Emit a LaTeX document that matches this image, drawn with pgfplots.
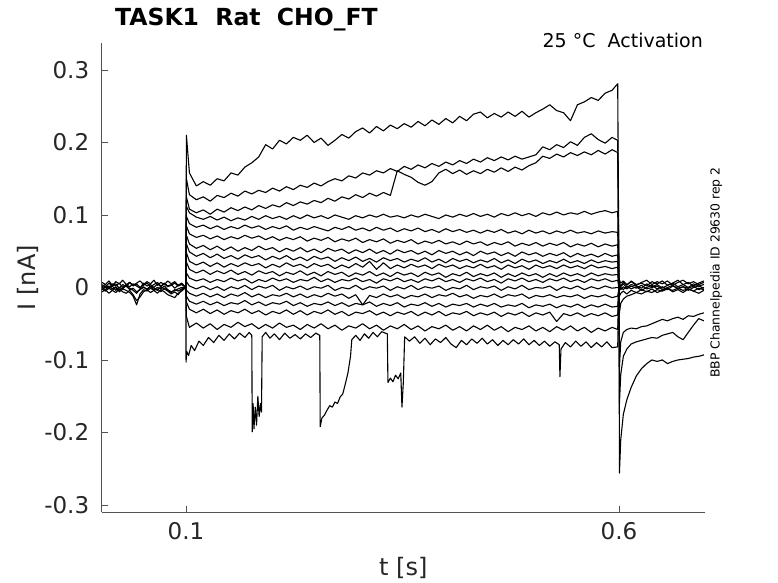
\documentclass[border=0pt]{standalone}
\usepackage{pgfplots}
\usepackage{pgfplotstable}
\pgfplotsset{compat=1.18}
\usepackage{fontspec}
\setmainfont{DejaVu Sans}
\definecolor{axgray}{gray}{0.15}

\pgfplotstableread{
name 0.0999 0.1005 0.104 0.112 0.120 0.128 0.136 0.144 0.152 0.160 0.168 0.176 0.184 0.192 0.200 0.208 0.216 0.224 0.232 0.240 0.248 0.256 0.264 0.272 0.280 0.288 0.296 0.304 0.312 0.320 0.328 0.336 0.344 0.352 0.360 0.368 0.376 0.384 0.392 0.400 0.408 0.416 0.424 0.432 0.440 0.448 0.456 0.464 0.472 0.480 0.488 0.496 0.504 0.512 0.520 0.528 0.536 0.544 0.552 0.560 0.568 0.576 0.584 0.592 0.5985 0.6000
A 0.000 0.210 0.158 0.140 0.146 0.141 0.150 0.147 0.158 0.155 0.166 0.172 0.180 0.197 0.191 0.203 0.198 0.207 0.203 0.210 0.200 0.206 0.196 0.203 0.211 0.206 0.215 0.220 0.213 0.222 0.216 0.224 0.219 0.226 0.221 0.229 0.223 0.231 0.225 0.233 0.227 0.236 0.230 0.239 0.242 0.234 0.240 0.235 0.242 0.236 0.243 0.235 0.241 0.246 0.252 0.244 0.241 0.230 0.252 0.256 0.262 0.258 0.268 0.272 0.281 0.000
B 0.000 0.150 0.128 0.121 0.125 0.119 0.127 0.124 0.130 0.126 0.133 0.129 0.134 0.131 0.137 0.133 0.139 0.135 0.141 0.138 0.144 0.140 0.146 0.150 0.147 0.154 0.151 0.158 0.155 0.161 0.158 0.164 0.160 0.167 0.163 0.169 0.165 0.171 0.167 0.173 0.169 0.175 0.171 0.177 0.173 0.179 0.175 0.180 0.176 0.181 0.177 0.180 0.183 0.194 0.190 0.197 0.193 0.201 0.196 0.207 0.212 0.204 0.199 0.207 0.203 0.000
C 0.000 0.125 0.108 0.103 0.107 0.101 0.108 0.104 0.110 0.106 0.111 0.107 0.113 0.109 0.114 0.111 0.117 0.113 0.118 0.115 0.120 0.117 0.123 0.119 0.125 0.122 0.128 0.124 0.130 0.126 0.131 0.127 0.161 0.156 0.152 0.145 0.141 0.146 0.158 0.163 0.157 0.162 0.156 0.161 0.157 0.163 0.159 0.165 0.160 0.166 0.162 0.168 0.172 0.181 0.178 0.184 0.180 0.186 0.182 0.187 0.183 0.189 0.184 0.190 0.186 0.000
D 0.000 0.112 0.103 0.097 0.094 0.098 0.093 0.097 0.092 0.096 0.093 0.098 0.094 0.099 0.095 0.098 0.094 0.099 0.095 0.100 0.096 0.099 0.095 0.100 0.097 0.094 0.099 0.096 0.100 0.097 0.101 0.097 0.099 0.096 0.100 0.097 0.101 0.098 0.095 0.100 0.097 0.101 0.098 0.102 0.098 0.101 0.097 0.102 0.099 0.103 0.099 0.102 0.098 0.103 0.100 0.104 0.100 0.103 0.101 0.105 0.101 0.104 0.106 0.103 0.105 0.000
E 0.000 0.098 0.088 0.083 0.086 0.081 0.085 0.080 0.084 0.081 0.086 0.082 0.085 0.080 0.084 0.081 0.085 0.079 0.083 0.080 0.084 0.081 0.078 0.083 0.080 0.084 0.079 0.082 0.078 0.083 0.079 0.082 0.077 0.081 0.078 0.082 0.077 0.080 0.076 0.081 0.077 0.080 0.076 0.079 0.075 0.079 0.076 0.080 0.075 0.078 0.074 0.079 0.075 0.078 0.074 0.078 0.075 0.079 0.075 0.077 0.074 0.078 0.075 0.077 0.076 0.000
F 0.000 0.085 0.074 0.069 0.072 0.067 0.071 0.066 0.070 0.067 0.072 0.068 0.071 0.066 0.070 0.065 0.069 0.066 0.070 0.064 0.068 0.065 0.069 0.063 0.067 0.064 0.068 0.062 0.066 0.063 0.067 0.061 0.065 0.062 0.066 0.060 0.064 0.061 0.065 0.060 0.063 0.059 0.064 0.060 0.063 0.058 0.062 0.059 0.063 0.057 0.061 0.058 0.062 0.057 0.061 0.058 0.062 0.056 0.060 0.057 0.061 0.056 0.060 0.057 0.059 0.000
G 0.000 0.072 0.060 0.054 0.058 0.052 0.057 0.051 0.056 0.050 0.055 0.051 0.057 0.052 0.055 0.049 0.054 0.050 0.055 0.049 0.053 0.048 0.054 0.050 0.053 0.047 0.052 0.048 0.053 0.047 0.051 0.046 0.052 0.048 0.051 0.046 0.050 0.045 0.051 0.047 0.050 0.045 0.049 0.044 0.050 0.046 0.049 0.044 0.048 0.043 0.049 0.045 0.048 0.043 0.047 0.044 0.048 0.042 0.047 0.043 0.046 0.042 0.047 0.043 0.045 0.000
H 0.000 0.060 0.049 0.043 0.047 0.041 0.046 0.040 0.044 0.039 0.045 0.041 0.044 0.038 0.043 0.039 0.044 0.038 0.042 0.037 0.043 0.039 0.042 0.036 0.041 0.037 0.042 0.036 0.040 0.035 0.041 0.037 0.040 0.035 0.039 0.036 0.041 0.035 0.039 0.034 0.040 0.036 0.039 0.034 0.038 0.035 0.040 0.034 0.038 0.033 0.039 0.035 0.038 0.033 0.037 0.034 0.039 0.034 0.037 0.033 0.038 0.034 0.037 0.035 0.036 0.000
I 0.000 0.048 0.036 0.031 0.035 0.029 0.034 0.028 0.033 0.029 0.034 0.030 0.033 0.027 0.032 0.028 0.034 0.029 0.032 0.027 0.033 0.029 0.032 0.026 0.031 0.027 0.033 0.028 0.036 0.025 0.034 0.026 0.031 0.027 0.032 0.028 0.031 0.026 0.032 0.028 0.031 0.026 0.030 0.027 0.032 0.027 0.030 0.025 0.031 0.027 0.030 0.025 0.031 0.027 0.030 0.026 0.031 0.027 0.030 0.026 0.031 0.027 0.029 0.026 0.028 0.000
J 0.000 0.035 0.025 0.020 0.024 0.018 0.023 0.019 0.024 0.018 0.022 0.017 0.023 0.019 0.022 0.016 0.021 0.018 0.023 0.017 0.021 0.016 0.022 0.018 0.021 0.015 0.020 0.017 0.022 0.016 0.020 0.015 0.021 0.017 0.020 0.015 0.021 0.017 0.020 0.014 0.019 0.016 0.021 0.015 0.019 0.016 0.020 0.014 0.019 0.015 0.020 0.016 0.019 0.014 0.019 0.015 0.020 0.016 0.019 0.015 0.020 0.016 0.019 0.017 0.018 0.000
K 0.000 0.020 0.013 0.009 0.012 0.007 0.011 0.008 0.013 0.009 0.012 0.006 0.011 0.008 0.013 0.009 0.012 0.007 0.011 0.009 0.014 0.008 0.012 0.007 0.011 0.009 0.013 0.008 0.011 0.006 0.012 0.009 0.013 0.008 0.011 0.007 0.012 0.009 0.013 0.008 0.011 0.007 0.012 0.009 0.013 0.008 0.011 0.006 0.012 0.009 0.013 0.008 0.011 0.007 0.012 0.009 0.013 0.008 0.011 0.007 0.012 0.009 0.012 0.008 0.010 0.000
L 0.000 0.008 0.002 -0.002 0.002 -0.003 0.001 -0.004 0.001 -0.002 0.003 -0.003 0.002 -0.001 0.003 -0.004 0.001 -0.002 0.002 -0.003 0.001 -0.001 0.003 -0.004 0.000 -0.002 0.003 -0.003 0.001 -0.001 0.002 -0.004 0.001 -0.002 0.003 -0.003 0.001 -0.001 0.002 -0.004 0.000 -0.002 0.003 -0.003 0.001 -0.001 0.002 -0.004 0.001 -0.002 0.003 -0.003 0.000 -0.001 0.002 -0.004 0.001 -0.002 0.002 -0.003 0.001 -0.002 0.002 -0.001 0.000 0.000
M 0.000 -0.004 -0.008 -0.012 -0.008 -0.013 -0.009 -0.014 -0.009 -0.012 -0.007 -0.013 -0.009 -0.014 -0.010 -0.012 -0.008 -0.013 -0.009 -0.014 -0.010 -0.013 -0.008 -0.012 -0.009 -0.015 -0.010 -0.024 -0.011 -0.014 -0.009 -0.013 -0.010 -0.015 -0.011 -0.013 -0.009 -0.014 -0.010 -0.012 -0.008 -0.013 -0.010 -0.015 -0.011 -0.013 -0.009 -0.014 -0.010 -0.012 -0.009 -0.015 -0.011 -0.013 -0.010 -0.014 -0.011 -0.013 -0.010 -0.015 -0.011 -0.013 -0.010 -0.014 -0.012 0.000
N 0.000 -0.012 -0.019 -0.023 -0.019 -0.024 -0.020 -0.025 -0.021 -0.023 -0.018 -0.024 -0.020 -0.025 -0.021 -0.023 -0.019 -0.025 -0.021 -0.026 -0.022 -0.024 -0.020 -0.025 -0.021 -0.026 -0.022 -0.024 -0.020 -0.026 -0.022 -0.025 -0.021 -0.027 -0.023 -0.025 -0.021 -0.026 -0.022 -0.027 -0.023 -0.025 -0.022 -0.027 -0.023 -0.026 -0.022 -0.027 -0.024 -0.026 -0.022 -0.028 -0.024 -0.026 -0.023 -0.028 -0.024 -0.027 -0.023 -0.028 -0.024 -0.027 -0.023 -0.027 -0.026 0.000
O 0.000 -0.020 -0.030 -0.035 -0.030 -0.036 -0.031 -0.037 -0.032 -0.035 -0.030 -0.036 -0.032 -0.038 -0.033 -0.036 -0.031 -0.037 -0.032 -0.038 -0.033 -0.036 -0.031 -0.037 -0.033 -0.039 -0.034 -0.036 -0.032 -0.038 -0.034 -0.039 -0.034 -0.037 -0.033 -0.039 -0.034 -0.038 -0.033 -0.039 -0.035 -0.037 -0.033 -0.039 -0.035 -0.038 -0.034 -0.040 -0.035 -0.038 -0.034 -0.040 -0.035 -0.038 -0.034 -0.047 -0.036 -0.039 -0.035 -0.040 -0.036 -0.039 -0.035 -0.040 -0.038 0.000
P 0.000 -0.040 -0.055 -0.049 -0.056 -0.050 -0.058 -0.051 -0.055 -0.048 -0.054 -0.050 -0.057 -0.051 -0.056 -0.049 -0.055 -0.052 -0.058 -0.051 -0.056 -0.050 -0.057 -0.052 -0.059 -0.053 -0.056 -0.050 -0.057 -0.052 -0.059 -0.053 -0.057 -0.051 -0.058 -0.053 -0.060 -0.054 -0.057 -0.052 -0.059 -0.054 -0.060 -0.053 -0.058 -0.052 -0.059 -0.054 -0.061 -0.055 -0.058 -0.053 -0.060 -0.055 -0.061 -0.054 -0.059 -0.053 -0.060 -0.055 -0.062 -0.056 -0.060 -0.055 -0.058 0.000
}\pulseraw
\pgfplotstabletranspose[colnames from=name]\pulse\pulseraw

\pgfplotstableread{
name 0.003 0.007 0.011 0.015 0.019 0.023 0.027 0.031 0.035 0.039 0.043 0.047 0.051 0.055 0.059 0.063 0.067 0.071 0.075 0.079 0.083 0.087 0.091 0.095 0.0999
Q1 0.007 0.004 0.009 0.003 0.008 0.005 0.010 0.004 0.007 0.003 0.006 0.009 0.004 0.008 0.005 0.010 0.003 0.007 0.004 0.009 0.005 0.008 0.003 0.006 0.000
Q2 0.001 0.004 -0.001 0.005 0.002 0.006 0.000 0.004 0.001 0.005 0.002 -0.001 0.006 0.002 0.004 0.000 0.005 0.001 0.006 0.002 0.004 -0.001 0.003 0.005 0.000
Q3 -0.003 0.001 -0.002 0.002 -0.004 0.000 -0.002 0.003 -0.001 -0.004 -0.008 -0.002 0.001 -0.003 0.002 -0.001 -0.004 0.001 -0.002 -0.005 -0.009 -0.006 -0.010 -0.003 0.000
Q4 -0.002 -0.005 -0.001 -0.004 0.000 -0.006 -0.002 -0.004 -0.007 -0.012 -0.024 -0.009 -0.003 -0.005 -0.001 -0.004 -0.002 -0.006 -0.001 -0.004 -0.007 -0.003 -0.005 -0.002 0.000
Q5 -0.006 -0.003 -0.008 -0.004 -0.007 -0.002 -0.006 -0.008 -0.004 -0.010 -0.018 -0.013 -0.006 -0.003 -0.007 -0.004 -0.008 -0.003 -0.006 -0.010 -0.012 -0.014 -0.008 -0.005 0.000
Q6 0.004 0.000 0.006 0.002 0.005 -0.001 0.004 0.001 0.007 0.002 0.005 0.000 0.003 0.006 0.001 0.004 0.007 0.002 0.005 0.001 0.003 0.006 0.002 0.004 0.000
Q7 0.000 -0.003 0.002 -0.002 0.001 -0.004 0.000 0.002 -0.003 -0.001 -0.006 -0.003 0.000 -0.002 0.001 -0.003 0.000 -0.002 0.002 -0.003 -0.006 -0.004 -0.002 0.000 0.000
}\preraw
\pgfplotstabletranspose[colnames from=name]\pre\preraw

\pgfplotstableread{
name 0.6000 0.6005 0.602 0.605 0.609 0.614 0.620 0.626 0.632 0.638 0.644 0.650 0.656 0.662 0.668 0.674 0.680 0.686 0.692 0.698
TA 0.000 -0.256 -0.210 -0.175 -0.155 -0.138 -0.122 -0.112 -0.105 -0.100 -0.102 -0.100 -0.105 -0.102 -0.100 -0.099 -0.098 -0.096 -0.095 -0.093
TB 0.000 -0.160 -0.120 -0.095 -0.085 -0.078 -0.075 -0.073 -0.071 -0.069 -0.070 -0.066 -0.064 -0.062 -0.068 -0.072 -0.062 -0.052 -0.043 -0.046
TC 0.000 -0.110 -0.075 -0.062 -0.058 -0.056 -0.057 -0.054 -0.053 -0.050 -0.047 -0.044 -0.046 -0.043 -0.041 -0.044 -0.039 -0.040 -0.037 -0.035
TD 0.000 -0.035 -0.022 -0.016 -0.012 -0.010 -0.007 -0.009 -0.005 -0.007 -0.003 -0.005 -0.002 -0.004 -0.001 -0.004 -0.002 -0.005 -0.001 -0.003
Z1 0.000 0.010 0.006 0.009 0.004 0.008 0.003 0.007 0.010 0.004 0.008 0.005 0.009 0.003 0.007 0.010 0.005 0.008 0.004 0.007
Z2 0.000 0.004 0.001 0.005 0.000 0.004 0.002 -0.001 0.005 0.001 0.004 -0.001 0.003 0.006 0.001 0.004 0.000 0.005 0.002 0.004
Z3 0.000 -0.004 0.000 -0.003 0.002 -0.002 0.001 -0.004 0.000 0.003 -0.002 0.001 -0.003 0.002 -0.001 0.001 -0.004 0.000 0.002 -0.001
Z4 0.000 -0.012 -0.008 -0.005 -0.009 -0.004 -0.007 -0.003 -0.006 -0.002 -0.007 -0.004 -0.001 -0.006 -0.003 -0.007 -0.002 -0.005 -0.008 -0.004
Z5 0.000 0.006 0.002 0.007 0.003 0.009 0.004 0.006 0.002 0.008 0.005 0.009 0.003 0.006 0.010 0.004 0.007 0.002 0.006 0.009
Z6 0.000 0.000 -0.003 0.001 -0.002 0.002 -0.001 0.003 -0.002 0.000 0.002 -0.003 0.000 0.003 -0.002 0.001 -0.001 0.002 -0.003 0.000
}\postraw
\pgfplotstabletranspose[colnames from=name]\post\postraw

\begin{document}
\begin{tikzpicture}
\useasboundingbox (0,0) rectangle (778bp,583bp);
\begin{axis}[
  at={(101.7bp,71bp)}, anchor=south west,
  width=603.3bp, height=468.7bp, scale only axis,
  xmin=0.0027, xmax=0.6993, ymin=-0.3097, ymax=0.3368,
  axis x line*=bottom, axis y line*=left,
  axis line style={-, draw=axgray!80, line width=0.6bp},
  every outer x axis line/.append style={-},
  every outer y axis line/.append style={-},
  every inner x axis line/.append style={-},
  every inner y axis line/.append style={-},
  tick align=inside, major tick length=6bp,
  tick style={draw=axgray!80, line width=0.6bp},
  xtick={0.1,0.6}, xticklabels={0.1,0.6},
  ytick={-0.3,-0.2,-0.1,0,0.1,0.2,0.3},
  yticklabels={-0.3,-0.2,-0.1,0,0.1,0.2,0.3},
  ticklabel style={font=\fontsize{23bp}{27bp}\selectfont, text=axgray},
  yticklabel style={xshift=-9bp},
  xticklabel style={yshift=-7bp},
  xlabel={t [s]}, ylabel={I [nA]},
  every axis x label/.style={at={(axis description cs:0.5,-0.1201)}, anchor=center, font=\fontsize{24bp}{28bp}\selectfont, text=axgray},
  every axis y label/.style={at={(axis description cs:-0.123,0.5)}, anchor=center, rotate=90, font=\fontsize{24bp}{28bp}\selectfont, text=axgray},
  cycle list={{black, solid, mark=none}},
  every axis plot/.append style={line width=1.1bp, line join=round},
]
\pgfplotsinvokeforeach{Q1,Q2,Q3,Q4,Q5,Q6,Q7}{\addplot table[x=colnames,y=#1]{\pre};}
\pgfplotsinvokeforeach{A,B,C,D,E,F,G,H,I,J,K,L,M,N,O,P}{\addplot table[x=colnames,y=#1]{\pulse};}
\pgfplotsinvokeforeach{TA,TB,TC,TD,Z1,Z2,Z3,Z4,Z5,Z6}{\addplot table[x=colnames,y=#1]{\post};}
\addplot coordinates {
(0.0999,0.000)(0.1001,-0.103)(0.1008,-0.088)(0.103,-0.094)(0.106,-0.080)(0.110,-0.087)
(0.115,-0.074)(0.120,-0.080)(0.126,-0.069)(0.132,-0.076)(0.138,-0.066)(0.144,-0.073)
(0.150,-0.064)(0.156,-0.071)(0.162,-0.063)(0.168,-0.069)(0.173,-0.062)(0.1760,-0.066)
(0.1765,-0.199)(0.1775,-0.160)(0.1785,-0.195)(0.1800,-0.165)(0.1815,-0.190)(0.1830,-0.150)
(0.1845,-0.178)(0.1860,-0.160)(0.1872,-0.172)(0.1880,-0.068)(0.192,-0.062)(0.197,-0.070)
(0.202,-0.064)(0.208,-0.072)(0.214,-0.063)(0.220,-0.070)(0.226,-0.065)(0.232,-0.071)
(0.238,-0.064)(0.244,-0.069)(0.250,-0.063)(0.2545,-0.066)(0.2550,-0.192)(0.2570,-0.180)
(0.2600,-0.176)(0.2630,-0.169)(0.2660,-0.163)(0.2690,-0.165)(0.2720,-0.158)(0.2750,-0.160)
(0.2780,-0.151)(0.2810,-0.147)(0.2840,-0.133)(0.2870,-0.118)(0.2900,-0.095)(0.2915,-0.072)
(0.296,-0.066)(0.301,-0.073)(0.306,-0.064)(0.311,-0.070)(0.316,-0.062)(0.321,-0.068)
(0.326,-0.061)(0.3325,-0.064)(0.3332,-0.131)(0.3360,-0.125)(0.3390,-0.130)(0.3420,-0.121)
(0.3450,-0.126)(0.3480,-0.118)(0.3494,-0.165)(0.3510,-0.130)(0.3525,-0.068)(0.358,-0.074)
(0.364,-0.068)(0.370,-0.077)(0.376,-0.070)(0.382,-0.079)(0.388,-0.071)(0.394,-0.076)
(0.400,-0.069)(0.406,-0.078)(0.412,-0.083)(0.418,-0.073)(0.424,-0.079)(0.430,-0.071)
(0.436,-0.077)(0.442,-0.070)(0.448,-0.078)(0.454,-0.072)(0.460,-0.080)(0.466,-0.073)
(0.472,-0.079)(0.478,-0.072)(0.484,-0.078)(0.490,-0.071)(0.496,-0.079)(0.502,-0.073)
(0.508,-0.080)(0.514,-0.074)(0.520,-0.081)(0.526,-0.075)(0.5310,-0.079)(0.5318,-0.123)
(0.5330,-0.085)(0.538,-0.076)(0.544,-0.082)(0.550,-0.074)(0.556,-0.081)(0.562,-0.075)
(0.568,-0.083)(0.574,-0.076)(0.580,-0.082)(0.586,-0.075)(0.592,-0.083)(0.5985,-0.082)
(0.6000,0.000)
};
\end{axis}
\node[anchor=base west, inner sep=0pt, font=\fontsize{23.5bp}{28bp}\selectfont\bfseries] at (115bp,557bp) {TASK1\ \ Rat\ \ CHO\_FT};
\node[anchor=base east, inner sep=0pt, font=\fontsize{19bp}{23bp}\selectfont] at (703bp,535.3bp) {25 °C\ \ Activation};
\node[rotate=90, anchor=base, inner sep=0pt, font=\fontsize{12.4bp}{15bp}\selectfont] at (719.7bp,310.5bp) {BBP Channelpedia ID 29630 rep 2};
\end{tikzpicture}
\end{document}
